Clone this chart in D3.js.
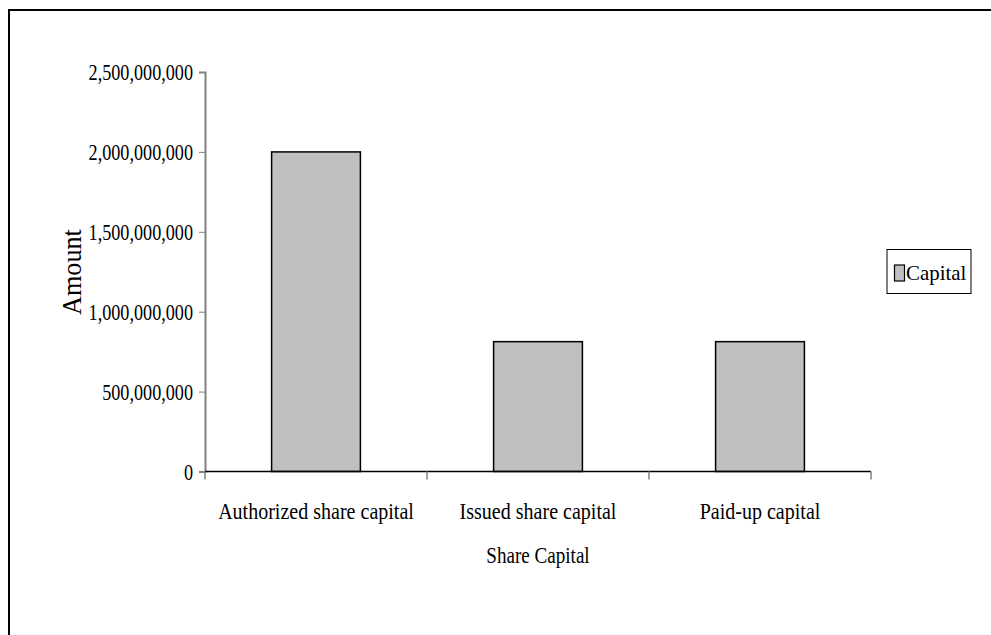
<!DOCTYPE html>
<html>
<head>
<meta charset="utf-8">
<script src="https://cdn.jsdelivr.net/npm/d3@7/dist/d3.min.js"></script>
<style>
  html, body { margin: 0; padding: 0; background: #fff; }
  svg { display: block; }
  text { font-family: "Liberation Serif", "Times New Roman", serif; fill: #000; }
</style>
</head>
<body>
<svg id="chart" width="991" height="635"></svg>
<script>
// Share capital breakdown
const categories = ["Authorized share capital", "Issued share capital", "Paid-up capital"];
const capital = [2000000000, 812500000, 812500000];
const yTicks = [0, 500000000, 1000000000, 1500000000, 2000000000, 2500000000];
const seriesName = "Capital";
const xTitle = "Share Capital";
const yTitle = "Amount";

const svg = d3.select("#chart");
const plot = { left: 205, right: 871, top: 72, bottom: 471.5 };

// condensed serif text: placed at (cx, cy), squeezed horizontally by s
function condensed(parent, cx, cy, s, size, anchor, str, rotate) {
  const t = parent.append("text")
    .attr("transform", `translate(${cx},${cy})${rotate ? " rotate(" + rotate + ")" : ""} scale(${s},1)`)
    .attr("text-anchor", anchor)
    .style("font-size", size + "px")
    .text(str);
  return t;
}

// outer chart frame
svg.append("rect")
  .attr("x", 9).attr("y", 10).attr("width", 1000).attr("height", 700)
  .attr("fill", "#fff").attr("stroke", "#000").attr("stroke-width", 2);

const x = d3.scaleBand().domain(categories).range([plot.left, plot.right])
  .paddingInner(0.6).paddingOuter(0.3);
const xOuter = d3.scaleBand().domain(categories).range([plot.left, plot.right]);
const y = d3.scaleLinear().domain([0, 2500000000]).range([plot.bottom, plot.top]);

const fmt = d3.format(",");
const tickScale = 0.79;

// y axis
const yAxis = svg.append("g")
  .attr("transform", `translate(${plot.left},0)`)
  .call(d3.axisLeft(y).tickValues(yTicks).tickSize(6).tickPadding(6).tickFormat(fmt));
yAxis.select(".domain").attr("stroke", "#808080").attr("stroke-width", 2);
yAxis.selectAll(".tick line").attr("stroke", "#808080").attr("stroke-width", 1);
yAxis.selectAll(".tick text")
  .style("font-family", '"Liberation Serif", serif')
  .style("font-size", "23px")
  .attr("x", -12 / tickScale)
  .attr("dy", "0.33em")
  .attr("transform", `scale(${tickScale},1)`);

// bars
svg.append("g").selectAll("rect")
  .data(capital)
  .join("rect")
  .attr("x", (d, i) => x(categories[i]))
  .attr("width", x.bandwidth())
  .attr("y", d => y(d))
  .attr("height", d => y(0) - y(d))
  .attr("fill", "#c0c0c0")
  .attr("stroke", "#000")
  .attr("stroke-width", 1.5);

// x axis
const xAxisG = svg.append("g").attr("transform", `translate(0,${plot.bottom})`);
xAxisG.append("line")
  .attr("x1", plot.left).attr("x2", plot.right)
  .attr("stroke", "#000").attr("stroke-width", 1.5);
const boundaries = categories.map(c => xOuter(c)).concat([plot.right]);
xAxisG.selectAll("line.tick")
  .data(boundaries)
  .join("line")
  .attr("class", "tick")
  .attr("x1", d => d).attr("x2", d => d)
  .attr("y1", 0).attr("y2", 8)
  .attr("stroke", "#808080").attr("stroke-width", 1.5);
categories.forEach(c => {
  condensed(xAxisG, xOuter(c) + xOuter.bandwidth() / 2, 47, 0.835, 24, "middle", c);
});

// axis titles
condensed(svg, (plot.left + plot.right) / 2, 563, 0.83, 23, "middle", xTitle);
condensed(svg, 81, 272, 0.97, 27, "middle", yTitle, -90);

// legend
const legend = svg.append("g");
legend.append("rect")
  .attr("x", 887).attr("y", 249.5).attr("width", 84).attr("height", 44)
  .attr("fill", "#fff").attr("stroke", "#000").attr("stroke-width", 1);
legend.append("rect")
  .attr("x", 894.5).attr("y", 265).attr("width", 10).attr("height", 16)
  .attr("fill", "#c0c0c0").attr("stroke", "#000").attr("stroke-width", 1.2);
condensed(legend, 906, 280, 0.95, 22, "start", seriesName);
</script>
</body>
</html>
